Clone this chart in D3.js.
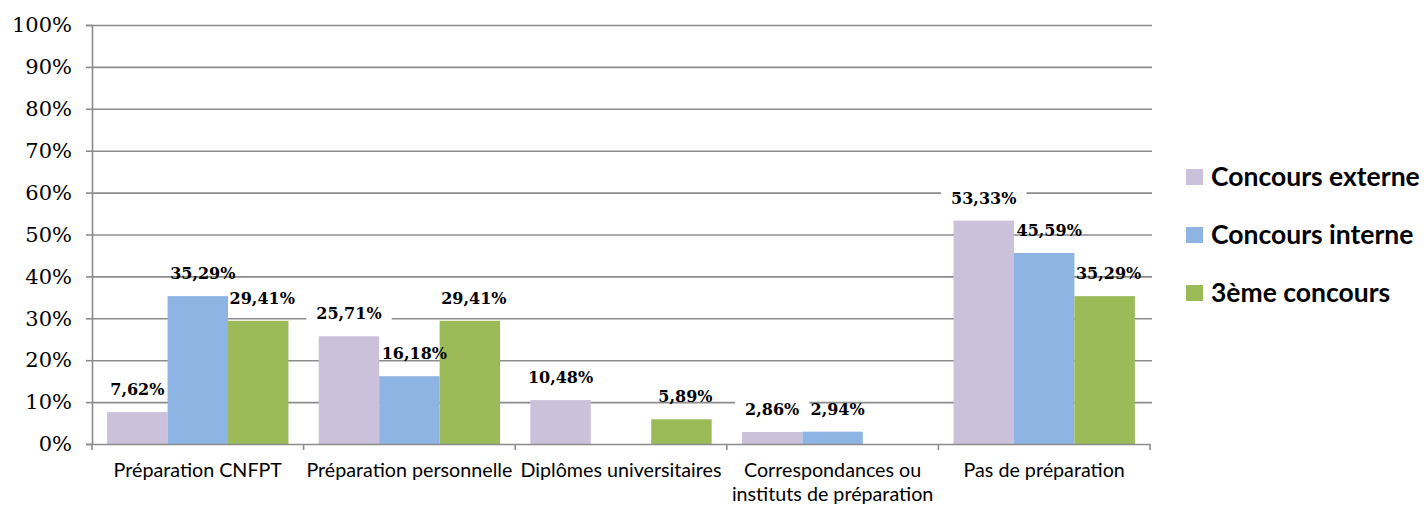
<!DOCTYPE html>
<html><head><meta charset="utf-8">
<script src="https://cdn.jsdelivr.net/npm/d3@7"></script>
<style>body{margin:0;background:#fff}</style>
</head><body>
<svg id="c" width="1427" height="506"></svg>
<script>
const categories = ["Préparation CNFPT","Préparation personnelle","Diplômes universitaires","Correspondances ou|instituts de préparation","Pas de préparation"];
const seriesNames = ["Concours externe","Concours interne","3ème concours"];
const externe = [7.62, 25.71, 10.48, 2.86, 53.33];
const interne = [35.29, 16.18, null, 2.94, 45.59];
const troisieme = [29.41, 29.41, 5.89, null, 35.29];
const colors = ["#CCC1DA","#8EB4E3","#9BBB59"];
const yTicks = [0,10,20,30,40,50,60,70,80,90,100];

(function(){
const series = [externe, interne, troisieme];
const svg = d3.select("#c");
const pl = 92, pr = 1150, pt = 25, pb = 444;

const x0 = d3.scaleBand().domain(categories).range([pl, pr]).paddingInner(0.143).paddingOuter(0.0715);
const x1 = d3.scaleBand().domain(seriesNames).range([0, x0.bandwidth()]);
const y = d3.scaleLinear().domain([0,100]).range([pb, pt]);

const yAxis = d3.axisLeft(y).tickValues(yTicks).tickFormat(d => d + "%").tickSize(6).tickPadding(14);
const ga = svg.append("g").attr("transform", `translate(${pl},0)`).call(yAxis);
ga.select(".domain").attr("stroke", "#8c8c8c").attr("stroke-width", 1.6);
ga.selectAll(".tick line").attr("stroke", "#8c8c8c").attr("stroke-width", 1.6);
ga.selectAll(".tick text").attr("font-family", "DejaVu Serif").attr("font-size", 21).attr("fill", "#000");
const grid = svg.append("g").attr("transform", `translate(${pl},0)`)
  .call(d3.axisLeft(y).tickValues(yTicks.slice(1)).tickSize(-(pr - pl + 2)).tickFormat(""));
grid.select(".domain").remove();
grid.selectAll(".tick line").attr("stroke", "#8c8c8c").attr("stroke-width", 1.6);

const bgLayer = svg.append("g");
const barLayer = svg.append("g");
const labelLayer = svg.append("g");

series.forEach((vals, si) => {
  barLayer.append("g").selectAll("rect").data(categories.map((c, i) => ({c, v: vals[i]})).filter(d => d.v != null))
    .join("rect")
    .attr("x", d => x0(d.c) + x1(seriesNames[si]))
    .attr("width", x1.bandwidth())
    .attr("y", d => y(d.v))
    .attr("height", d => y(0) - y(d.v))
    .attr("fill", colors[si]);
});

const xa = svg.append("g").attr("transform", `translate(0,${pb})`)
  .call(d3.axisBottom(x0).tickSize(0).tickFormat(""));
xa.select(".domain").attr("stroke", "#8c8c8c").attr("stroke-width", 1.6);
const bounds = [pl, ...categories.map(c => x0(c) + x0.bandwidth() + x0.step() * x0.paddingInner() / 2)];
bounds[bounds.length - 1] = pr;
svg.append("g").selectAll("line").data(bounds).join("line")
  .attr("x1", d => d).attr("x2", d => d).attr("y1", pb).attr("y2", pb + 6)
  .attr("stroke", "#8c8c8c").attr("stroke-width", 1.6);
categories.forEach(c => {
  const lines = c.split("|");
  const t = svg.append("text").attr("x", x0(c) + x0.bandwidth() / 2).attr("y", 477)
    .attr("text-anchor", "middle").attr("font-family", "Lato").attr("font-size", 19.7).attr("fill", "#000");
  lines.forEach((l, i) => t.append("tspan").attr("x", x0(c) + x0.bandwidth() / 2).attr("dy", i ? 24 : 0).text(l));
});

const fmt = v => v.toFixed(2).replace(".", ",") + "%";
const shift = [0, 5, 4];
series.forEach((vals, si) => {
  categories.forEach((c, i) => {
    const v = vals[i];
    if (v == null) return;
    const cx = x0(c) + x1(seriesNames[si]) + x1.bandwidth() / 2 + shift[si];
    const by = y(v) - 17;
    const t = labelLayer.append("text").attr("x", cx).attr("y", by).attr("text-anchor", "middle")
      .attr("font-family", "DejaVu Serif").attr("font-weight", "bold").attr("font-size", 16).attr("fill", "#000").text(fmt(v));
    if (si === 0) {
      const b = t.node().getBBox();
      bgLayer.append("rect").attr("x", b.x - 10).attr("y", b.y - 4).attr("width", b.width + 20).attr("height", b.height + 5).attr("fill", "#fff");
    }
  });
});

const lg = svg.append("g");
seriesNames.forEach((s, i) => {
  const yy = 169 + i * 58;
  lg.append("rect").attr("x", 1186).attr("y", yy).attr("width", 17).attr("height", 16).attr("fill", colors[i]);
  lg.append("text").attr("x", 1211).attr("y", yy + 17).attr("font-family", "Lato").attr("font-weight", "bold")
    .attr("font-size", 26.5).attr("fill", "#000").text(s);
});
})();
</script>
</body></html>
